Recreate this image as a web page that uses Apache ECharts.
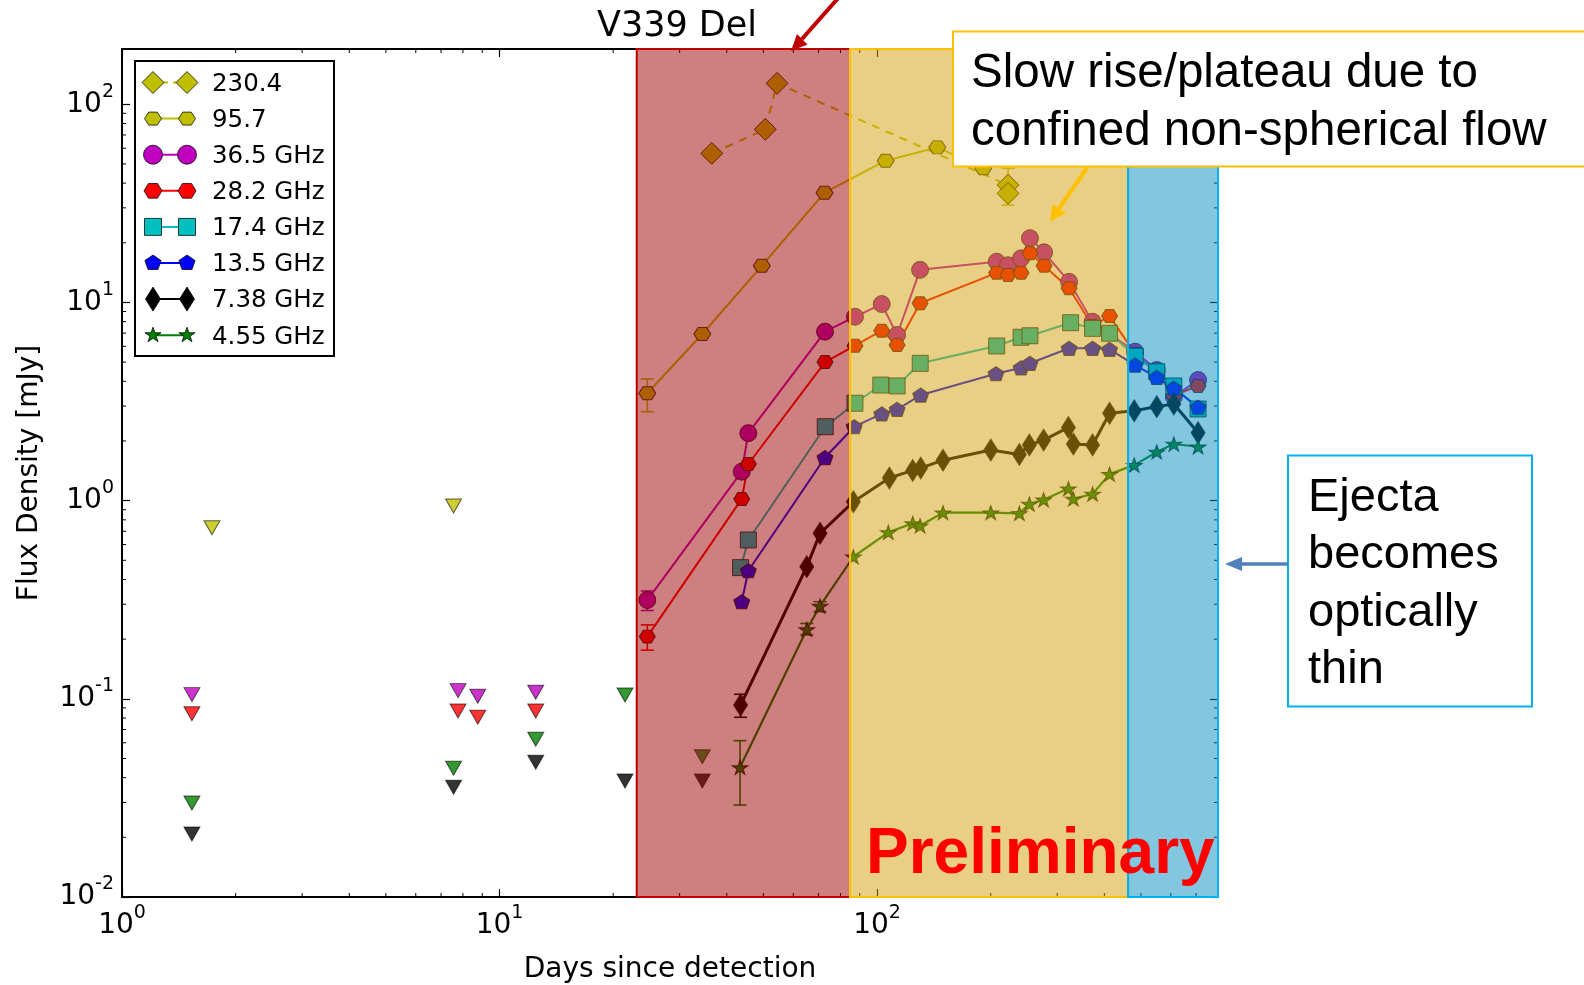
<!DOCTYPE html>
<html><head><meta charset="utf-8">
<script src="https://cdn.jsdelivr.net/npm/echarts@6/dist/echarts.min.js"></script>
<style>html,body{margin:0;padding:0;background:#fff}#c{width:1584px;height:985px}</style>
</head><body><div id="c"></div>
<script>
// ---------------- data (days since detection, flux density mJy) ----------------
const xLimits = [1, 800];
const yLimits = [0.01, 190];
const phaseBounds = [23.09, 84.8, 462.2, 800];

const f230_4 = [[36.49,56.5],[50.59,74.7],[54.34,127.5],[222.3,39.1],[222.3,35.5]];
const f95_7 = [[24.63,3.48],[34.45,6.93],[49.50,15.3],[72.6,35.8],[105.4,51.9],[144.4,60.6],[191.2,47.5]];
const f36_5 = [[24.63,0.315],[43.81,1.40],[45.61,2.19],[72.8,7.12],[87.4,8.47],[102.9,9.81],[113.0,6.85],[130.0,14.6],[207.4,16.05],[222.3,15.4],[240.7,16.7],[254.1,21.1],[277.0,17.9],[322.6,12.7],[372.3,7.99],[482.6,5.64],[550.7,4.56],[611.0,3.34],[708.5,4.06]];
const f28_2 = [[24.63,0.206],[43.81,1.02],[45.61,1.53],[72.8,5.00],[87.4,6.05],[102.9,7.20],[113.0,6.10],[130.0,9.90],[207.4,14.1],[222.3,13.75],[240.7,14.1],[254.1,17.7],[277.0,15.3],[322.6,11.8],[372.3,7.6],[413.0,8.54],[482.6,5.5],[550.7,4.4],[611.0,3.4],[708.5,3.79]];
const f17_4 = [[43.5,0.459],[45.61,0.633],[72.9,2.36],[87.4,3.10],[102.3,3.83],[113.0,3.79],[130.1,4.93],[207.4,6.03],[240.7,6.67],[254.1,6.79],[325.6,7.90],[372.3,7.40],[413.0,6.99],[482.6,5.36],[550.7,4.47],[611.0,3.79],[708.5,2.90]];
const f13_5 = [[43.81,0.309],[45.61,0.443],[72.8,1.65],[87.0,2.36],[102.9,2.74],[113.0,2.89],[130.5,3.41],[206.5,4.37],[240.7,4.68],[254.1,4.93],[322.6,5.87],[372.3,5.87],[413.0,5.80],[482.6,4.83],[550.7,4.19],[611.0,3.69],[708.5,2.96]];
const f7_38 = [[43.5,0.093],[65.14,0.464],[70.63,0.684],[86.56,0.987],[107.8,1.30],[124.3,1.42],[130.5,1.46],[149.5,1.60],[200.1,1.80],[238.2,1.71],[253.2,1.91],[276.2,2.02],[321.3,2.34],[331.1,1.93],[372.3,1.91],[413.0,2.76],[480.0,2.84],[550.7,2.98],[611.0,3.07],[708.5,2.20]];
const f4_55 = [[43.36,0.0451],[65.14,0.224],[70.63,0.294],[86.56,0.521],[107.1,0.692],[124.3,0.768],[130.0,0.747],[149.5,0.869],[200.1,0.869],[238.2,0.863],[253.2,0.961],[276.2,1.01],[321.3,1.15],[331.1,1.02],[372.3,1.08],[413.0,1.36],[480.0,1.51],[550.7,1.76],[611.0,1.93],[708.5,1.87]];

// upper limits
const ul95_7 = [[1.731,0.73],[7.556,0.94]];
const ul36_5 = [[1.532,0.105],[7.765,0.110],[8.757,0.103],[12.47,0.108]];
const ul28_2 = [[1.532,0.0841],[7.765,0.0868],[8.757,0.0808],[12.47,0.0868]];
const ul7_38 = [[1.532,0.0208],[7.556,0.0358],[12.47,0.0479],[21.5,0.0385],[34.45,0.0385]];
const ul4_55 = [[1.532,0.0298],[7.556,0.0446],[12.47,0.0625],[21.5,0.1045],[34.45,0.0510]];

// error bars [x, low, high]
const err230_4 = [[222.3,31.0,47.6]];
const err95_7 = [[24.63,2.81,4.11]];
const err36_5 = [[24.63,0.279,0.350]];
const err28_2 = [[24.63,0.176,0.236]];
const err7_38 = [[43.5,0.0807,0.1054]];
const err4_55 = [[43.36,0.0291,0.0615],[65.14,0.210,0.240],[70.63,0.275,0.309]];

const legendNames = ['230.4','95.7','36.5 GHz','28.2 GHz','17.4 GHz','13.5 GHz','7.38 GHz','4.55 GHz'];
const xMinorTicks = [2,3,4,5,6,7,8,9,20,30,40,50,60,70,80,90,200,300,400,500,600,700];
const yMinorTicks = [0.02,0.03,0.04,0.05,0.06,0.07,0.08,0.09,0.2,0.3,0.4,0.5,0.6,0.7,0.8,0.9,2,3,4,5,6,7,8,9,20,30,40,50,60,70,80,90];

// ---------------- styles ----------------
const C = {y:'#BFBF00', m:'#BF00BF', r:'#FF0000', c:'#00BFBF', b:'#0000FF', k:'#000000', g:'#008000'};
const hexP = [[0,50],[25,6.7],[75,6.7],[100,50],[75,93.3],[25,93.3]];
const pentP = [[50,0],[97.6,34.5],[79.4,90.5],[20.6,90.5],[2.4,34.5]];
const starP = [[50,0],[61.2,34.5],[97.6,34.5],[68.2,55.9],[79.4,90.5],[50,69.1],[20.6,90.5],[31.8,55.9],[2.4,34.5],[38.8,34.5]];
const diamP = [[50,0],[100,50],[50,100],[0,50]];
function toPath(pts) { return 'path://M' + pts.map(p => p[0] + ',' + p[1]).join(' L') + ' Z'; }
const EDGE = 'rgba(0,0,0,0.75)';

function lineSeries(name, data, color, symbol, size, lw, dash) {
  return {name, type:'line', data, symbol, symbolSize:size, symbolKeepAspect:true,
    lineStyle:{color, width:lw, type: dash || 'solid'},
    itemStyle:{color, borderColor:EDGE, borderWidth:1},
    z:2, silent:true, animation:false};
}
function ulSeries(data, color) {
  return {type:'scatter', data, symbol:'triangle', symbolRotate:180, symbolSize:[16,14],
    itemStyle:{color, borderColor:EDGE, borderWidth:1}, z:2, silent:true, animation:false};
}
function errSeries(data, color) {
  return {type:'custom', data, encode:{x:0, y:[1,2]}, z:2, silent:true, animation:false,
    renderItem: function(p, api) {
      const x = api.value(0);
      const lo = api.coord([x, api.value(1)]);
      const hi = api.coord([x, api.value(2)]);
      const w = 6.5, st = {stroke:color, lineWidth:1.6};
      return {type:'group', children:[
        {type:'line', shape:{x1:lo[0],y1:lo[1],x2:hi[0],y2:hi[1]}, style:st},
        {type:'line', shape:{x1:lo[0]-w,y1:lo[1],x2:lo[0]+w,y2:lo[1]}, style:st},
        {type:'line', shape:{x1:hi[0]-w,y1:hi[1],x2:hi[0]+w,y2:hi[1]}, style:st}
      ]};
    }};
}
function powLabel(v) {
  const e = Math.log10(v), r = Math.round(e);
  if (Math.abs(e - r) > 1e-6) return '';
  return '{b|10}{s|' + r + '}';
}
const richLab = {
  b:{fontFamily:'DejaVu Sans', fontSize:28, lineHeight:44, color:'#000'},
  s:{fontFamily:'DejaVu Sans', fontSize:19, lineHeight:19, verticalAlign:'top', color:'#000'}
};
const frameLine = {show:true, onZero:false, lineStyle:{color:'#000', width:2}};
const majTick = {show:true, inside:true, length:8, lineStyle:{color:'#000', width:1.2}};

// ---------------- legend (graphic) ----------------
const legendStyle = [
  {c:C.y, t:'poly', p:diamP, w:22, h:22, dash:[5,5]},
  {c:C.y, t:'poly', p:hexP, w:17, h:15},
  {c:C.m, t:'circle', w:19},
  {c:C.r, t:'poly', p:hexP, w:18, h:17},
  {c:C.c, t:'rect', w:17},
  {c:C.b, t:'poly', p:pentP, w:17, h:16},
  {c:C.k, t:'poly', p:diamP, w:15, h:24},
  {c:C.g, t:'poly', p:starP, w:17, h:16}
];
function sym(s, cx, cy) {
  const st = {fill:s.c, stroke:EDGE, lineWidth:1};
  if (s.t === 'circle') return {type:'circle', shape:{cx, cy, r:s.w/2}, style:st};
  if (s.t === 'rect') return {type:'rect', shape:{x:cx-s.w/2, y:cy-s.w/2, width:s.w, height:s.w}, style:st};
  const pts = s.p.map(q => [cx - s.w/2 + q[0]*s.w/100, cy - s.h/2 + q[1]*s.h/100]);
  return {type:'polygon', shape:{points:pts}, style:st};
}
const legendEls = [{type:'rect', shape:{x:135, y:61, width:199, height:295}, style:{fill:'#fff', stroke:'#000', lineWidth:2}}];
legendNames.forEach(function(n, i) {
  const y = 82.5 + i*36.1, s = legendStyle[i];
  const ls = {stroke:s.c, lineWidth:2};
  if (s.dash) ls.lineDash = s.dash;
  legendEls.push({type:'line', shape:{x1:153, y1:y, x2:187, y2:y}, style:ls});
  legendEls.push(sym(s, 153, y));
  legendEls.push(sym(s, 187, y));
  legendEls.push({type:'text', style:{text:n, x:212, y:y + 2, font:'24.5px "DejaVu Sans"', fill:'#000', textVerticalAlign:'middle'}});
});

// ---------------- annotations (graphic) ----------------
const annot = [
  {type:'line', shape:{x1:840, y1:-4, x2:802, y2:39}, style:{stroke:'#C00000', lineWidth:4}},
  {type:'polygon', shape:{points:[[791,51],[807.5,44.5],[797,34]]}, style:{fill:'#C00000'}},
  {type:'rect', shape:{x:953, y:31.5, width:640, height:135}, style:{fill:'#fff', stroke:'#FFC000', lineWidth:2}},
  {type:'text', style:{text:'Slow rise/plateau due to', x:971, y:74, font:'47.5px "Liberation Sans"', fill:'#000', textVerticalAlign:'middle'}},
  {type:'text', style:{text:'confined non-spherical flow', x:971, y:132, font:'47.5px "Liberation Sans"', fill:'#000', textVerticalAlign:'middle'}},
  {type:'line', shape:{x1:1087, y1:168, x2:1059, y2:208.5}, style:{stroke:'#FFC000', lineWidth:4}},
  {type:'polygon', shape:{points:[[1050,221.7],[1066,213],[1052.5,204]]}, style:{fill:'#FFC000'}},
  {type:'rect', shape:{x:1288, y:455.5, width:244, height:251}, style:{fill:'#fff', stroke:'#00B0F0', lineWidth:2}},
  {type:'text', style:{text:'Ejecta', x:1308, y:498, font:'47px "Liberation Sans"', fill:'#000', textVerticalAlign:'middle'}},
  {type:'text', style:{text:'becomes', x:1308, y:555.5, font:'47px "Liberation Sans"', fill:'#000', textVerticalAlign:'middle'}},
  {type:'text', style:{text:'optically', x:1308, y:613.5, font:'47px "Liberation Sans"', fill:'#000', textVerticalAlign:'middle'}},
  {type:'text', style:{text:'thin', x:1308, y:670.5, font:'47px "Liberation Sans"', fill:'#000', textVerticalAlign:'middle'}},
  {type:'line', shape:{x1:1288, y1:564, x2:1240, y2:564}, style:{stroke:'#4F81BD', lineWidth:3.5}},
  {type:'polygon', shape:{points:[[1225,564],[1242,557],[1242,571]]}, style:{fill:'#4F81BD'}},
  {type:'text', style:{text:'Preliminary', x:866, y:855, font:'bold 64px "Liberation Sans"', fill:'#FF0000', textVerticalAlign:'middle'}}
];

// ---------------- chart ----------------
const chart = echarts.init(document.getElementById('c'), null, {renderer:'canvas'});
const series = [
  lineSeries('230.4', f230_4, C.y, 'diamond', [22,22], 2, [8,7]),
  lineSeries('95.7', f95_7, C.y, toPath(hexP), [17,15], 2),
  lineSeries('36.5 GHz', f36_5, C.m, 'circle', 17, 2),
  lineSeries('28.2 GHz', f28_2, C.r, toPath(hexP), [16,15], 2),
  lineSeries('17.4 GHz', f17_4, C.c, 'rect', 16, 2),
  lineSeries('13.5 GHz', f13_5, C.b, toPath(pentP), [16,15], 2),
  lineSeries('7.38 GHz', f7_38, C.k, 'diamond', [14,22], 3),
  lineSeries('4.55 GHz', f4_55, C.g, toPath(starP), [16,15], 2.2),
  ulSeries(ul95_7, C.y), ulSeries(ul36_5, C.m), ulSeries(ul28_2, C.r),
  ulSeries(ul7_38, C.k), ulSeries(ul4_55, C.g),
  errSeries(err230_4, C.y), errSeries(err95_7, C.y), errSeries(err36_5, C.m),
  errSeries(err28_2, C.r), errSeries(err7_38, C.k), errSeries(err4_55, C.g),
  {type:'custom', silent:true, z:3, animation:false, data: xMinorTicks.map(v => [v, 1]), encode:{x:0, y:1},
   renderItem: function(p, api) {
     const x = api.coord([api.value(0), 1])[0], cs = p.coordSys, st = {stroke:'#000', lineWidth:1};
     return {type:'group', children:[
       {type:'line', shape:{x1:x, y1:cs.y+cs.height, x2:x, y2:cs.y+cs.height-4}, style:st},
       {type:'line', shape:{x1:x, y1:cs.y, x2:x, y2:cs.y+4}, style:st}]};
   }},
  {type:'custom', silent:true, z:3, animation:false, data: yMinorTicks.map(v => [1, v]), encode:{x:0, y:1},
   renderItem: function(p, api) {
     const y = api.coord([1, api.value(1)])[1], cs = p.coordSys, st = {stroke:'#000', lineWidth:1};
     return {type:'group', children:[
       {type:'line', shape:{x1:cs.x, y1:y, x2:cs.x+4, y2:y}, style:st},
       {type:'line', shape:{x1:cs.x+cs.width, y1:y, x2:cs.x+cs.width-4, y2:y}, style:st}]};
   }},
  {type:'line', data:[], z:10, silent:true, animation:false,
   markArea:{silent:true, animation:false, z:10, data:[
     [{xAxis:phaseBounds[0], itemStyle:{color:'rgba(157,0,0,0.5)', borderColor:'#C00000', borderWidth:2}}, {xAxis:phaseBounds[1]}],
     [{xAxis:phaseBounds[1], itemStyle:{color:'rgba(209,160,8,0.5)', borderColor:'#FFC000', borderWidth:2}}, {xAxis:phaseBounds[2]}],
     [{xAxis:phaseBounds[2], itemStyle:{color:'rgba(5,142,194,0.5)', borderColor:'#00B0F0', borderWidth:2}}, {xAxis:phaseBounds[3]}]
   ]}}
];

chart.setOption({
  animation:false,
  backgroundColor:'#fff',
  title:{text:'V339 Del', left:672, top:4, textAlign:'center',
    textStyle:{fontFamily:'DejaVu Sans', fontSize:35, fontWeight:'normal', color:'#000'}},
  grid:{left:122, right:366, top:49, bottom:88, containLabel:false, outerBoundsMode:'none'},
  xAxis:[
    {type:'log', logBase:10, min:xLimits[0], max:xLimits[1], position:'bottom',
     axisLine:frameLine, axisTick:majTick, splitLine:{show:false},
     axisLabel:{margin:7, formatter:powLabel, rich:richLab, showMaxLabel:false},
     name:'Days since detection', nameLocation:'middle', nameGap:59,
     nameTextStyle:{fontFamily:'DejaVu Sans', fontSize:28, color:'#000'}},
    {type:'log', logBase:10, min:xLimits[0], max:xLimits[1], position:'top',
     axisLine:frameLine, axisTick:majTick, splitLine:{show:false}, axisLabel:{show:false}}
  ],
  yAxis:[
    {type:'log', logBase:10, min:yLimits[0], max:yLimits[1], position:'left',
     axisLine:frameLine, axisTick:majTick, splitLine:{show:false},
     axisLabel:{margin:8, formatter:powLabel, rich:richLab, showMaxLabel:false},
     name:'Flux Density [mJy]', nameLocation:'middle', nameGap:78,
     nameTextStyle:{fontFamily:'DejaVu Sans', fontSize:28, color:'#000'}},
    {type:'log', logBase:10, min:yLimits[0], max:yLimits[1], position:'right',
     axisLine:frameLine, axisTick:majTick, splitLine:{show:false}, axisLabel:{show:false}}
  ],
  series: series,
  graphic: {elements: legendEls.concat(annot).map(e => Object.assign({z:100}, e))}
});
</script></body></html>
